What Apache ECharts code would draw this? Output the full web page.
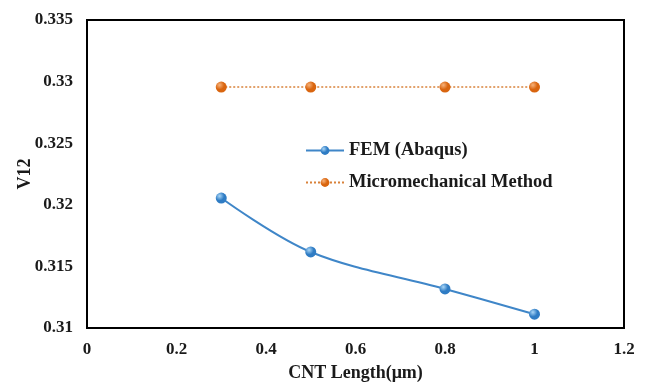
<!DOCTYPE html>
<html>
<head>
<meta charset="utf-8">
<script src="https://cdn.jsdelivr.net/npm/echarts@6/dist/echarts.min.js"></script>
<style>
  html, body { margin: 0; padding: 0; background: #fff; }
  #chart { width: 646px; height: 383px; }
</style>
</head>
<body>
<div id="chart"></div>
<script>
// CNT length (µm) and Poisson's ratio V12 from the two approaches
const cntLength = [0.3, 0.5, 0.8, 1.0];
const femAbaqus = [0.32055, 0.31617, 0.31317, 0.31112];
const microMech = [0.32956, 0.32956, 0.32956, 0.32956];

const xTicks = { min: 0, max: 1.2, interval: 0.2 };
const yTicks = { min: 0.31, max: 0.335, interval: 0.005 };

const serif = '"Liberation Serif", "DejaVu Serif", serif';
const ink = '#1a1a1a';

function sphere(light, dark) {
  return {
    type: 'radial', x: 0.35, y: 0.32, r: 0.75,
    colorStops: [
      { offset: 0, color: light },
      { offset: 0.55, color: dark },
      { offset: 1, color: dark }
    ]
  };
}

const chart = echarts.init(document.getElementById('chart'));
chart.setOption({
  animation: false,
  backgroundColor: '#fff',
  grid: {
    left: 87, right: 22, top: 20, bottom: 55,
    outerBoundsMode: 'none', containLabel: false,
    show: true, borderColor: '#000', borderWidth: 2
  },
  xAxis: {
    type: 'value',
    min: xTicks.min, max: xTicks.max, interval: xTicks.interval,
    name: 'CNT Length(μm)',
    nameLocation: 'middle', nameGap: 36,
    nameTextStyle: { fontFamily: serif, fontWeight: 'bold', fontSize: 18, color: ink },
    axisLine: { show: true, lineStyle: { color: '#000', width: 2 } },
    axisTick: { show: false },
    splitLine: { show: false },
    axisLabel: {
      fontFamily: serif, fontWeight: 'bold', fontSize: 17, color: ink, margin: 13,
      formatter: v => String(parseFloat(v.toFixed(1)))
    }
  },
  yAxis: {
    type: 'value',
    min: yTicks.min, max: yTicks.max, interval: yTicks.interval,
    name: 'V12',
    nameLocation: 'middle', nameGap: 53,
    nameMoveOverlap: false,
    nameTextStyle: { fontFamily: serif, fontWeight: 'bold', fontSize: 18, color: ink },
    axisLine: { show: true, lineStyle: { color: '#000', width: 2 } },
    axisTick: { show: false },
    splitLine: { show: false },
    axisLabel: {
      fontFamily: serif, fontWeight: 'bold', fontSize: 17, color: ink, margin: 14,
      formatter: v => String(parseFloat(v.toFixed(3)))
    }
  },
  legend: {
    orient: 'vertical',
    left: 300, top: 136,
    itemWidth: 38, itemHeight: 11, itemGap: 13,
    textStyle: { fontFamily: serif, fontWeight: 'bold', fontSize: 18.5, color: ink },
    data: ['FEM (Abaqus)', 'Micromechanical Method']
  },
  series: [
    {
      name: 'FEM (Abaqus)',
      type: 'line',
      smooth: 0.35,
      data: cntLength.map((x, i) => [x, femAbaqus[i]]),
      symbol: 'circle', symbolSize: 11,
      lineStyle: { color: '#3f86c8', width: 2 },
      itemStyle: { color: sphere('#a9d6f7', '#2f7cc4'), borderWidth: 0 },
      z: 3
    },
    {
      name: 'Micromechanical Method',
      type: 'line',
      data: cntLength.map((x, i) => [x, microMech[i]]),
      symbol: 'circle', symbolSize: 11,
      lineStyle: { color: '#d9823a', width: 1.5, type: [2, 2] },
      itemStyle: { color: sphere('#f7b27a', '#d9650f'), borderWidth: 0 },
      z: 2
    }
  ]
});
</script>
</body>
</html>
